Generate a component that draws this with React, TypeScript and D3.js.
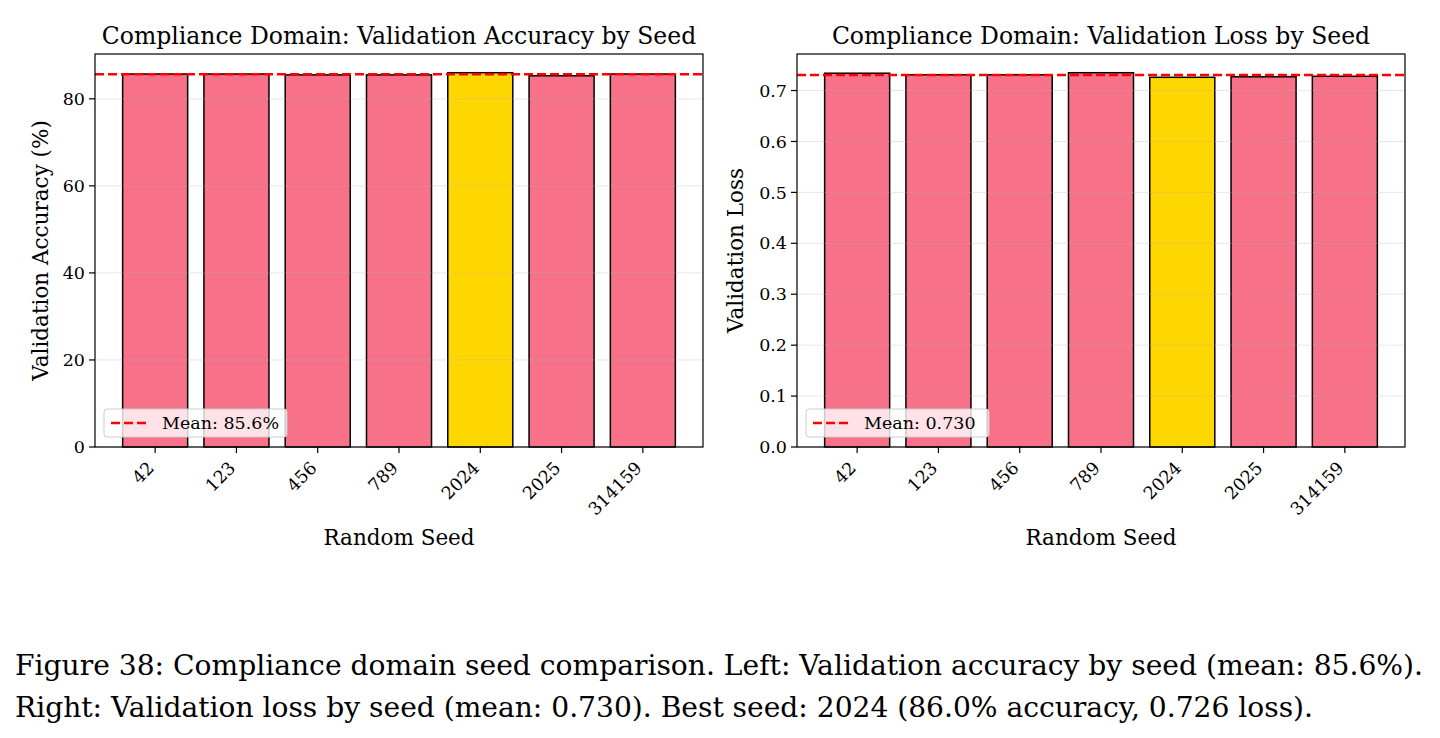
import React from "react";
import * as d3 from "d3";

// seeds and per-seed validation results
const seeds = ["42", "123", "456", "789", "2024", "2025", "314159"];
const accuracy = [85.7, 85.7, 85.5, 85.5, 86.0, 85.3, 85.7];
const loss = [0.734, 0.731, 0.731, 0.735, 0.726, 0.727, 0.728];
const bestSeed = "2024";
const accTicks = [0, 20, 40, 60, 80];
const lossTicks = [0, 0.1, 0.2, 0.3, 0.4, 0.5, 0.6, 0.7];

const captionLines = [
  "Figure 38: Compliance domain seed comparison. Left: Validation accuracy by seed (mean: 85.6%).",
  "Right: Validation loss by seed (mean: 0.730). Best seed: 2024 (86.0% accuracy, 0.726 loss).",
];

const PINK = "#f77189";
const GOLD = "#ffd700";
const FONT = '"DejaVu Serif", serif';

type PanelProps = {
  left: number;
  values: number[];
  ticks: number[];
  tickFormat: (v: number) => string;
  title: string;
  yLabel: string;
  yLabelOffset: number;
  legendText: string;
};

function Panel({ left, values, ticks, tickFormat, title, yLabel, yLabelOffset, legendText }: PanelProps) {
  const top = 54;
  const bottom = 447;
  const width = 608;
  const right = left + width;

  // matplotlib-like limits: bars of width 0.8 with 5% margins
  const n = seeds.length;
  const pad = 0.05 * (n - 1 + 0.8);
  const x = d3.scaleLinear().domain([-0.4 - pad, n - 1 + 0.4 + pad]).range([left, right]);
  const y = d3.scaleLinear().domain([0, d3.max(values)! * 1.05]).range([bottom, top]);
  const mean = d3.mean(values)!;
  const cx = (left + right) / 2;

  return (
    <g style={{ fontFamily: FONT }}>
      {/* bars */}
      {values.map((v, i) => (
        <rect
          key={seeds[i]}
          x={x(i - 0.4)}
          y={y(v)}
          width={x(i + 0.4) - x(i - 0.4)}
          height={y(0) - y(v)}
          fill={seeds[i] === bestSeed ? GOLD : PINK}
          stroke="#000"
          strokeWidth={1.5}
        />
      ))}
      {/* grid */}
      {ticks.map((t) => (
        <line key={"g" + t} x1={left} x2={right} y1={y(t)} y2={y(t)} stroke="#b0b0b0" strokeOpacity={0.3} strokeWidth={1} />
      ))}
      {/* mean line */}
      <line x1={left} x2={right} y1={y(mean)} y2={y(mean)} stroke="#ff0000" strokeWidth={2.5} strokeDasharray="9,4" />
      {/* frame */}
      <rect x={left} y={top} width={width} height={bottom - top} fill="none" stroke="#000" strokeWidth={1.2} />
      {/* y ticks */}
      {ticks.map((t) => (
        <g key={"t" + t}>
          <line x1={left - 6} x2={left} y1={y(t)} y2={y(t)} stroke="#000" strokeWidth={1.2} />
          <text x={left - 10} y={y(t)} dy="0.35em" textAnchor="end" fontSize={17.5}>
            {tickFormat(t)}
          </text>
        </g>
      ))}
      {/* x ticks */}
      {seeds.map((s, i) => (
        <g key={"x" + s}>
          <line x1={x(i)} x2={x(i)} y1={bottom} y2={bottom + 6} stroke="#000" strokeWidth={1.2} />
          <text
            transform={`translate(${x(i) - 9},${bottom + 13}) rotate(-45)`}
            textAnchor="end"
            dominantBaseline="hanging"
            fontSize={17.5}
          >
            {s}
          </text>
        </g>
      ))}
      {/* title and labels */}
      <text x={cx} y={top - 10} textAnchor="middle" fontSize={23.5}>
        {title}
      </text>
      <text x={cx} y={545} textAnchor="middle" fontSize={21.5}>
        Random Seed
      </text>
      <text transform={`translate(${left - yLabelOffset},${(top + bottom) / 2}) rotate(-90)`} textAnchor="middle" fontSize={21.5}>
        {yLabel}
      </text>
      {/* legend */}
      <g transform={`translate(${left + 9},${bottom - 38})`}>
        <rect x={0} y={0} width={183} height={28} rx={3} fill="#fff" fillOpacity={0.8} stroke="#cccccc" strokeWidth={1} />
        <line x1={7} x2={42} y1={14} y2={14} stroke="#ff0000" strokeWidth={2.5} strokeDasharray="9,4" />
        <text x={58} y={14} dy="0.35em" fontSize={17.5}>
          {legendText}
        </text>
      </g>
    </g>
  );
}

export default function App() {
  const accMean = d3.mean(accuracy)!;
  const lossMean = d3.mean(loss)!;
  return (
    <svg width={1440} height={738} style={{ display: "block", position: "absolute", left: 0, top: 0 }}>
      <rect width={1440} height={738} fill="#fff" />
      <Panel
        left={95}
        values={accuracy}
        ticks={accTicks}
        tickFormat={(v) => String(v)}
        title="Compliance Domain: Validation Accuracy by Seed"
        yLabel="Validation Accuracy (%)"
        yLabelOffset={47}
        legendText={`Mean: ${accMean.toFixed(1)}%`}
      />
      <Panel
        left={797}
        values={loss}
        ticks={lossTicks}
        tickFormat={(v) => v.toFixed(1)}
        title="Compliance Domain: Validation Loss by Seed"
        yLabel="Validation Loss"
        yLabelOffset={54}
        legendText={`Mean: ${lossMean.toFixed(3)}`}
      />
      <g style={{ fontFamily: FONT }} fontSize={27} fill="#000">
        <text x={15} y={675} textLength={1408} lengthAdjust="spacingAndGlyphs">
          {captionLines[0]}
        </text>
        <text x={15} y={717} textLength={1298} lengthAdjust="spacingAndGlyphs">
          {captionLines[1]}
        </text>
      </g>
    </svg>
  );
}
